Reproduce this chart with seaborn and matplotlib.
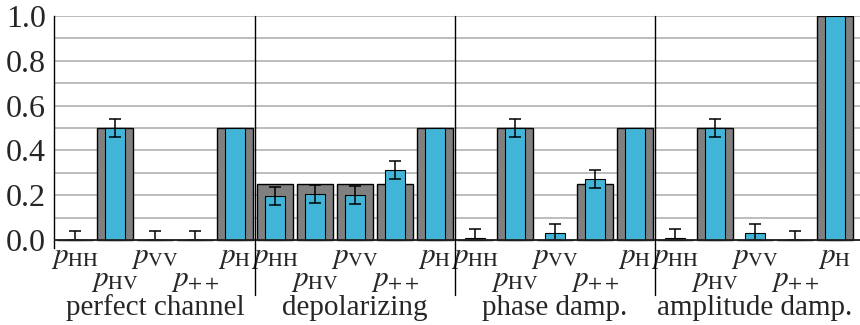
import numpy as np
import pandas as pd
import matplotlib
matplotlib.use("Agg")
import matplotlib.pyplot as plt
from matplotlib.ticker import MultipleLocator
import seaborn as sns

# ---------------- data ----------------
channels = ["perfect channel", "depolarizing", "phase damp.", "amplitude damp."]
categories = [r"$p_{\mathrm{HH}}$", r"$p_{\mathrm{HV}}$", r"$p_{\mathrm{VV}}$",
              r"$p_{++}$", r"$p_{\mathrm{H}}$"]
y_ticks = [0.0, 0.2, 0.4, 0.6, 0.8, 1.0]
y_ticklabels = ["0.0", "0.2", "0.4", "0.6", "0.8", "1.0"]

theory_perfect = [0.0, 0.5, 0.0, 0.0, 0.5]
theory_depol = [0.25, 0.25, 0.25, 0.25, 0.5]
theory_phase = [0.0, 0.5, 0.0, 0.25, 0.5]
theory_ampl = [0.0, 0.5, 0.0, 0.0, 1.0]

meas_perfect = [0.0, 0.5, 0.0, 0.0, 0.5]
meas_depol = [0.195, 0.205, 0.20, 0.313, 0.5]
meas_phase = [0.01, 0.5, 0.03, 0.273, 0.5]
meas_ampl = [0.01, 0.5, 0.03, 0.0, 1.0]

err_perfect = [0.04, 0.04, 0.04, 0.04, 0.0]
err_depol = [0.04, 0.04, 0.04, 0.04, 0.0]
err_phase = [0.04, 0.04, 0.04, 0.04, 0.0]
err_ampl = [0.04, 0.04, 0.04, 0.04, 0.0]

theory = theory_perfect + theory_depol + theory_phase + theory_ampl
measured = meas_perfect + meas_depol + meas_phase + meas_ampl
errors = err_perfect + err_depol + err_phase + err_ampl

n_cat = len(categories)
pos = np.arange(len(theory))
df = pd.DataFrame({"pos": pos, "theory": theory, "measured": measured, "err": errors})

# ---------------- style ----------------
sns.set_style("white")
SERIF = ["Liberation Serif", "DejaVu Serif"]
plt.rcParams["font.family"] = SERIF
plt.rcParams["mathtext.fontset"] = "stix"

GRAY = "#808080"
BLUE = "#41b4d8"

fig = plt.figure(figsize=(8.6, 3.25), dpi=100)
ax = fig.add_axes([0.0628, 0.2374, 0.9372, 0.7134])

sns.barplot(data=df, x="pos", y="theory", native_scale=True, width=0.89,
            color=GRAY, saturation=1, edgecolor="black", linewidth=1.0,
            errorbar=None, ax=ax, zorder=3)
sns.barplot(data=df, x="pos", y="measured", native_scale=True, width=0.5,
            color=BLUE, saturation=1, edgecolor="black", linewidth=0.8,
            errorbar=None, ax=ax, zorder=4)

m = df["err"] > 0
lower = np.minimum(df.loc[m, "err"].values, df.loc[m, "measured"].values)
upper = df.loc[m, "err"].values
ax.errorbar(df.loc[m, "pos"], df.loc[m, "measured"], yerr=[lower, upper],
            fmt="none", ecolor="black", elinewidth=1.1, capsize=4.5,
            capthick=1.1, zorder=5)

ax.set_xlim(-0.525, 19.625)
ax.set_ylim(-0.035, 1.0)
ax.set_xlabel("")
ax.set_ylabel("")
ax.set_xticks([])

ax.set_yticks(y_ticks)
ax.set_yticklabels(y_ticklabels, fontfamily=SERIF, fontsize=23)
ax.yaxis.set_minor_locator(MultipleLocator(0.1))
ax.tick_params(axis="y", which="both", direction="in", length=6, width=1,
               color="#333333", pad=6)
ax.yaxis.grid(True, which="both", color="#b8b8b8", linewidth=1.3, zorder=0)
ax.set_axisbelow(True)

for s in ["top", "right", "bottom"]:
    ax.spines[s].set_visible(False)
ax.spines["left"].set_color("black")
ax.spines["left"].set_linewidth(1.0)

ax.axhline(0, color="#222222", linewidth=1.3, zorder=6)

# group separators
for g in range(1, len(channels)):
    ax.axvline(g * n_cat - 0.5, ymin=-0.205, ymax=1.0, clip_on=False,
               color="black", linewidth=1.0, zorder=6)

# category labels (staggered) and group labels
for g, ch in enumerate(channels):
    for i, lab in enumerate(categories):
        x = g * n_cat + i
        dy = -18 if i % 2 == 0 else -41
        ax.annotate(lab, xy=(x, 0), xycoords="data", xytext=(0, dy * 0.72),
                    textcoords="offset points", ha="center", va="center",
                    fontsize=21, annotation_clip=False)
    ax.annotate(ch, xy=(g * n_cat + (n_cat - 1) / 2, 0), xycoords="data",
                xytext=(0, -68 * 0.72), textcoords="offset points",
                ha="center", va="center", fontsize=21, fontfamily=SERIF,
                annotation_clip=False)

fig.savefig("out.png", dpi=100)
